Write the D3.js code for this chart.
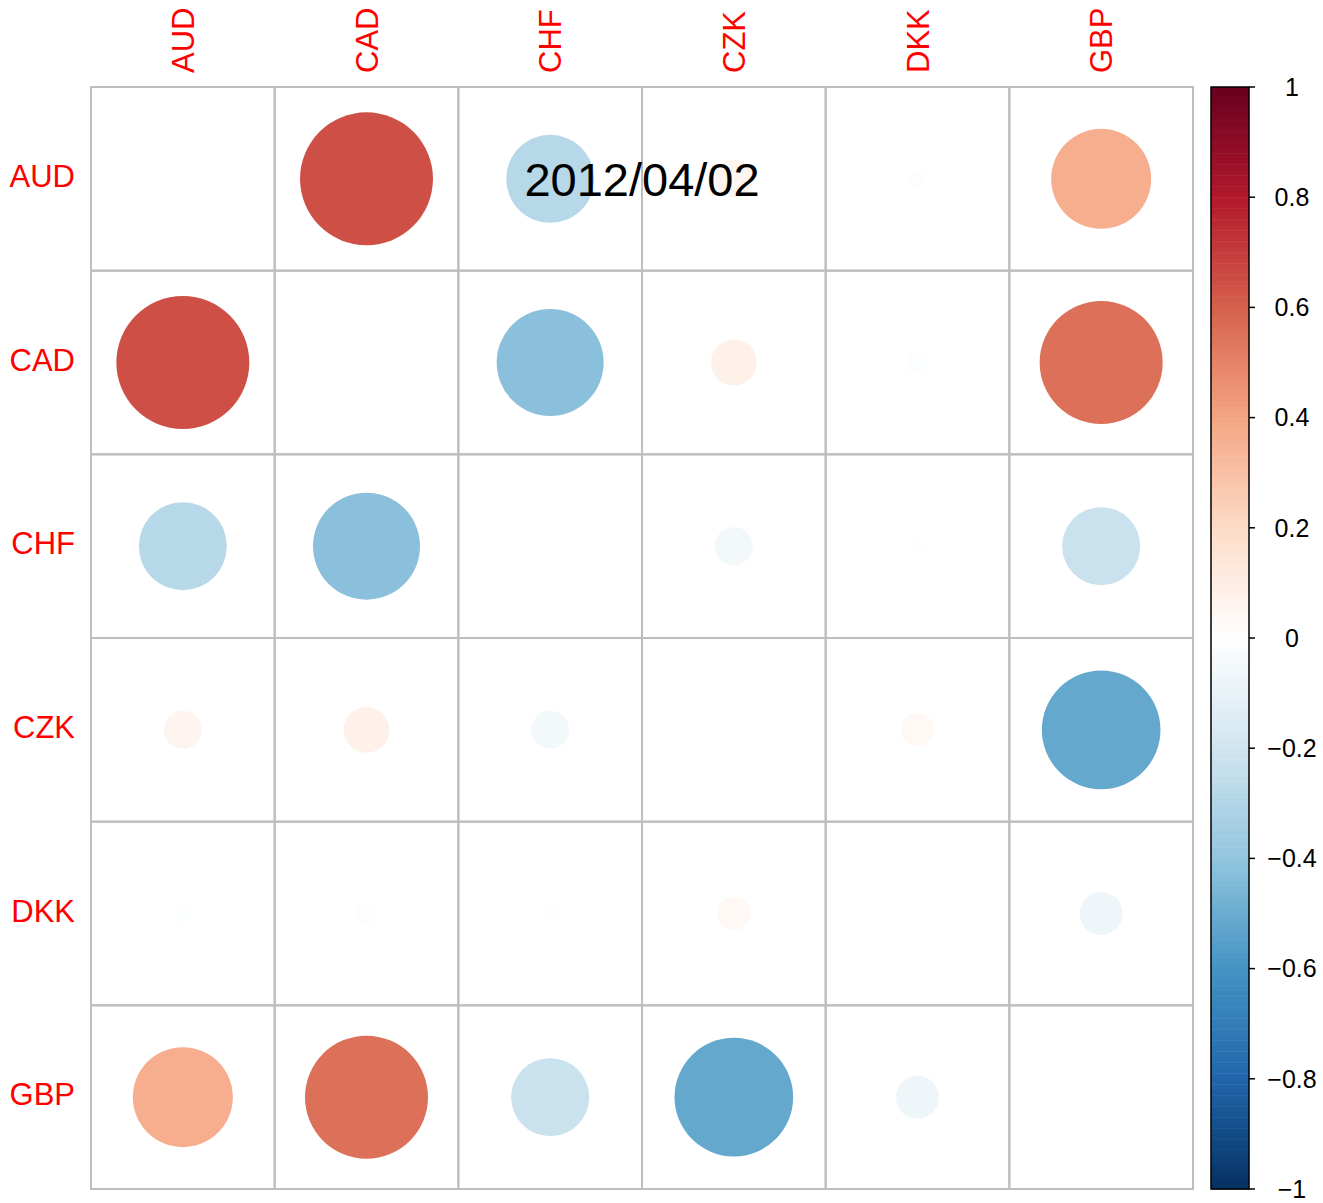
<!DOCTYPE html>
<html>
<head>
<meta charset="utf-8">
<script src="https://cdn.jsdelivr.net/npm/d3@7"></script>
<style>
  html, body { margin: 0; padding: 0; background: #fff; }
  svg { display: block; font-family: "Liberation Sans", Arial, sans-serif; }
</style>
</head>
<body>
<svg id="chart" width="1323" height="1203"></svg>
<script>
// ---- data ----
const categories = ["AUD", "CAD", "CHF", "CZK", "DKK", "GBP"];
const rowAUD = [null,   0.647, -0.283,  0.053, -0.011,  0.366];
const rowCAD = [0.647,  null,  -0.419,  0.077, -0.018,  0.554];
const rowCHF = [-0.283, -0.419, null,  -0.053, -0.008, -0.223];
const rowCZK = [0.053,  0.077, -0.053,  null,   0.041, -0.515];
const rowDKK = [-0.011, -0.018, -0.008, 0.041,  null,  -0.068];
const rowGBP = [0.366,  0.554, -0.223, -0.515, -0.068,  null];
const rows = [rowAUD, rowCAD, rowCHF, rowCZK, rowDKK, rowGBP];
const legendTicks = [1, 0.8, 0.6, 0.4, 0.2, 0, -0.2, -0.4, -0.6, -0.8, -1];
const legendLabels = ["1", "0.8", "0.6", "0.4", "0.2", "0", "\u22120.2", "\u22120.4", "\u22120.6", "\u22120.8", "\u22121"];
const titleText = "2012/04/02";
const paletteStops = ["#053061", "#2166AC", "#4393C3", "#92C5DE", "#D1E5F0", "#FFFFFF",
                      "#FDDBC7", "#F4A582", "#D6604D", "#B2182B", "#67001F"];

(function () {
// ---- layout ----
const svg = d3.select("#chart");
const gLeft = 91, gTop = 87, size = 1102;
const x = d3.scaleBand().domain(categories).range([gLeft, gLeft + size]);
const y = d3.scaleBand().domain(categories).range([gTop, gTop + size]);
const cell = x.bandwidth();
const rScale = d3.scaleSqrt().domain([0, 1]).range([0, 0.45 * cell]);
const color = d3.scaleLinear()
  .domain(d3.range(11).map(i => -1 + i * 0.2))
  .range(paletteStops)
  .interpolate(d3.interpolateRgb);

const cells = [];
rows.forEach((row, i) => row.forEach((v, j) => cells.push({r: categories[i], c: categories[j], v})));

// grid
svg.append("g").selectAll("rect").data(cells).join("rect")
  .attr("x", d => x(d.c)).attr("y", d => y(d.r))
  .attr("width", cell).attr("height", cell)
  .attr("fill", "none").attr("stroke", "#BEBEBE").attr("stroke-width", 2);

// circles
svg.append("g").selectAll("circle").data(cells.filter(d => d.v !== null)).join("circle")
  .attr("cx", d => x(d.c) + cell / 2)
  .attr("cy", d => y(d.r) + cell / 2)
  .attr("r", d => rScale(Math.abs(d.v)))
  .attr("fill", d => color(d.v));

// row labels
svg.append("g").selectAll("text").data(categories).join("text")
  .attr("x", 75).attr("y", d => y(d) + cell / 2 + 8)
  .attr("text-anchor", "end")
  .attr("font-size", 31).attr("fill", "#FF0000")
  .text(d => d);

// column labels
svg.append("g").selectAll("text").data(categories).join("text")
  .attr("transform", d => `translate(${x(d) + cell / 2 + 11},73) rotate(-90)`)
  .attr("text-anchor", "start")
  .attr("font-size", 31).attr("fill", "#FF0000")
  .text(d => d);

// title
svg.append("text")
  .attr("x", gLeft + size / 2).attr("y", y(categories[0]) + cell / 2)
  .attr("dy", "0.36em").attr("text-anchor", "middle")
  .attr("font-size", 47).attr("fill", "#000")
  .text(titleText);

// colour legend
const lx = 1211, lw = 38;
const ly = d3.scaleLinear().domain([-1, 1]).range([gTop + size, gTop]);
const nBands = 200;
const bands = d3.range(nBands).map(i => -1 + (i + 0.5) * 2 / nBands);
const lg = svg.append("g");
lg.selectAll("rect").data(bands).join("rect")
  .attr("x", lx).attr("width", lw)
  .attr("y", d => ly(d + 1 / nBands))
  .attr("height", ly(-1) - ly(-1 + 2 / nBands) + 0.5)
  .attr("fill", d => color(d));
lg.append("rect").attr("x", lx).attr("y", gTop).attr("width", lw).attr("height", size)
  .attr("fill", "none").attr("stroke", "#000").attr("stroke-width", 1.5);
lg.selectAll("line").data(legendTicks).join("line")
  .attr("x1", lx + lw).attr("x2", lx + lw + 6)
  .attr("y1", d => ly(d)).attr("y2", d => ly(d))
  .attr("stroke", "#000").attr("stroke-width", 1.5);
lg.selectAll("text").data(legendTicks).join("text")
  .attr("x", 1292).attr("y", d => ly(d)).attr("dy", "0.35em")
  .attr("text-anchor", "middle").attr("font-size", 25).attr("fill", "#000")
  .text((d, i) => legendLabels[i]);
})();
</script>
</body>
</html>
